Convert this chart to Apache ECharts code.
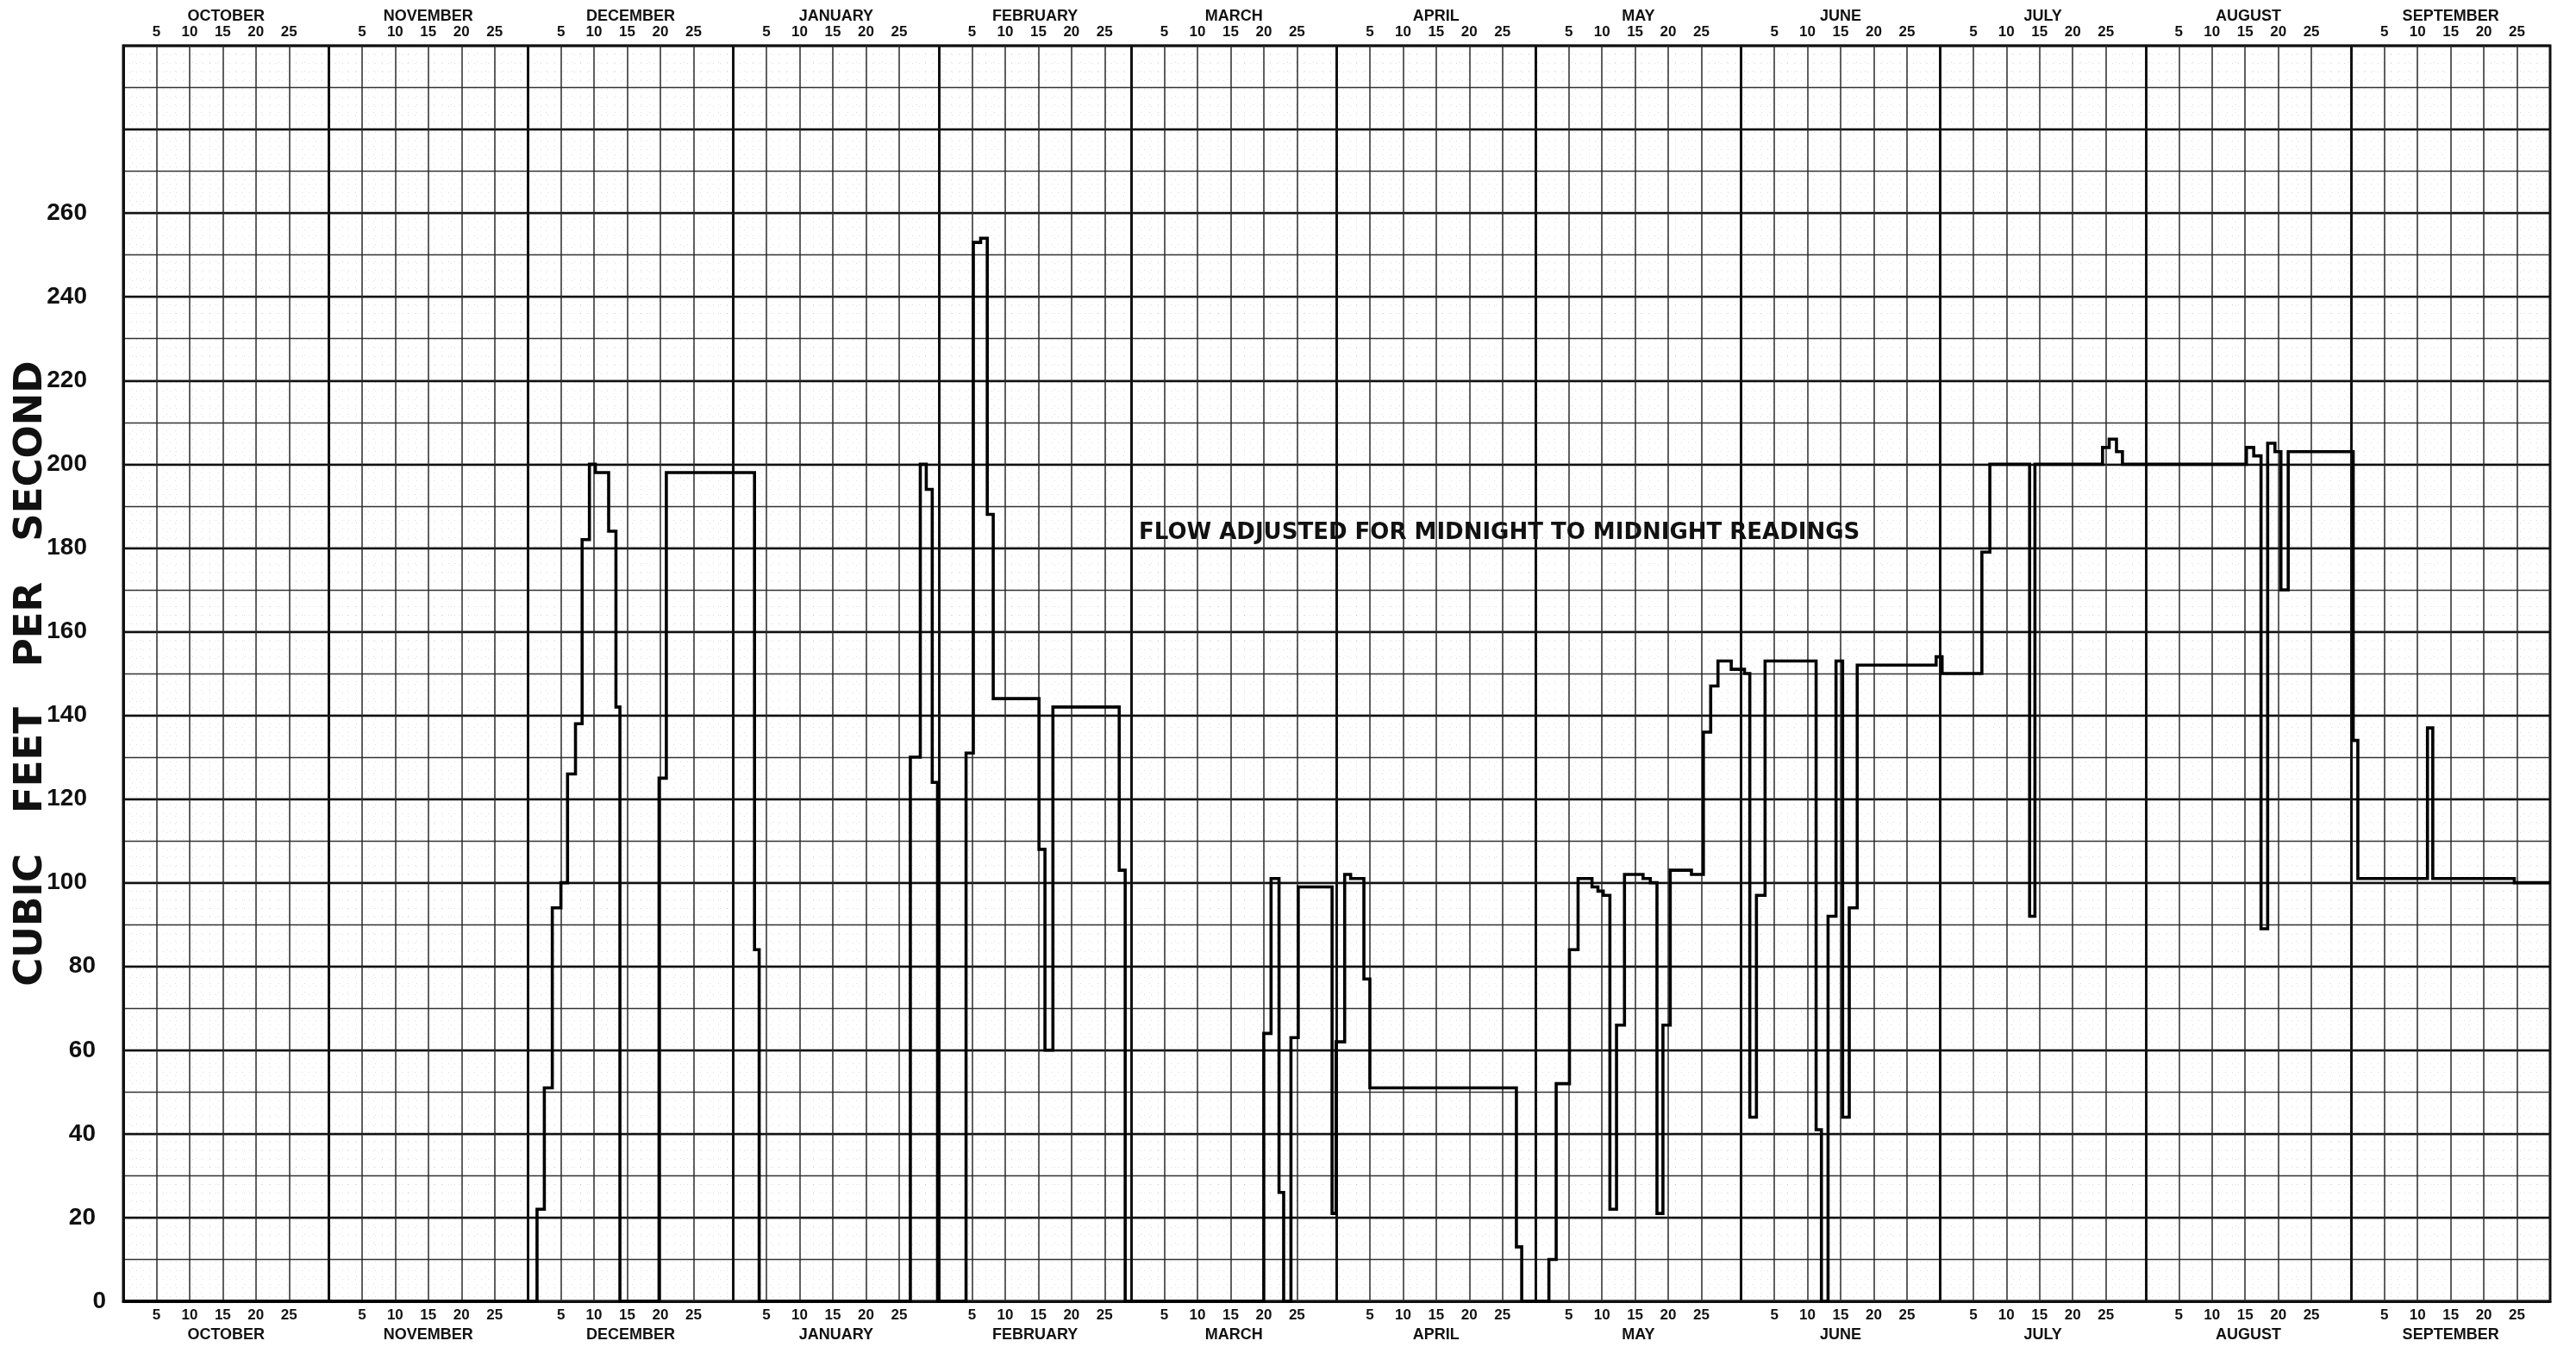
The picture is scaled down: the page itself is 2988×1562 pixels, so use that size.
<!DOCTYPE html>
<html>
<head>
<meta charset="utf-8">
<script src="https://cdn.jsdelivr.net/npm/echarts@6/dist/echarts.min.js"></script>
<style>
  html, body { margin: 0; padding: 0; background: #fff; }
  #chart { width: 2988px; height: 1562px; }
</style>
</head>
<body>
<div id="chart"></div>
<script>
// Water year October - September (February has 29 days this year)
const monthNames = ['OCTOBER', 'NOVEMBER', 'DECEMBER', 'JANUARY', 'FEBRUARY', 'MARCH',
                    'APRIL', 'MAY', 'JUNE', 'JULY', 'AUGUST', 'SEPTEMBER'];
const monthDays = [31, 30, 31, 31, 29, 31, 30, 31, 30, 31, 31, 30];
const dayMarks = [5, 10, 15, 20, 25];
const cfsTicks = [0, 20, 40, 60, 80, 100, 120, 140, 160, 180, 200, 220, 240, 260];

// Daily mean discharge as step changes: day counted from Oct 1, and the flow (cfs)
// that holds from that day until the next change.
const stepDay = [
  0,
  62.4, 63.5, 64.7, 66, 67, 68.2, 69.2, 70.3, 71.2, 73.2, 74.3, 74.9,
  80.8, 81.9, 95.2, 95.9,
  118.7, 120.2, 121.1, 122, 122.8,
  127.1, 128.2, 129.3, 130.3, 131.2, 138.1, 139, 140.2, 150.2, 151.1,
  172, 173.1, 174.3, 175, 176.1, 177.2, 182.3, 182.9, 184.2, 185.1, 187.1, 188, 210.1, 210.9,
  215, 216.1, 218.1, 219.4, 221.5, 222.4, 223.2, 224.2, 225.2, 226.4, 229.2, 230.3, 231.3,
  232.2, 233.3, 236.5, 238.3, 239.4, 240.5, 242.5, 244.5, 245.3,
  246.3, 247.6, 255.3, 256.1, 257.1, 258.3, 259.3, 260.3, 261.5, 273.4, 274.3,
  280.3, 281.5, 287.5, 288.3, 298.5, 299.5, 300.6, 301.5,
  320.2, 321.3, 322.4, 323.4, 324.5, 325.4, 326.5, 336.3, 337,
  347.5, 348.3, 360.6, 366
];
const stepCfs = [
  0,
  22, 51, 94, 100, 126, 138, 182, 200, 198, 184, 142, 0,
  125, 198, 84, 0,
  130, 200, 194, 124, 0,
  131, 253, 254, 188, 144, 108, 60, 142, 103, 0,
  64, 101, 26, 0, 63, 99, 21, 62, 102, 101, 77, 51, 13, 0,
  10, 52, 84, 101, 99, 98, 97, 22, 66, 102, 101, 100, 21,
  66, 103, 102, 136, 147, 153, 151, 150, 44,
  97, 153, 41, 0, 92, 153, 44, 94, 152, 154, 150,
  179, 200, 92, 200, 204, 206, 203, 200,
  204, 202, 89, 205, 203, 170, 203, 134, 101,
  137, 101, 100, 100
];

// ---- derived axis positions ----
const monthStart = [];
let acc = 0;
monthDays.forEach(d => { monthStart.push(acc); acc += d; });
const totalDays = acc;

const dayLabelVals = [];
const dayLabelText = {};
monthStart.forEach(s => dayMarks.forEach(d => {
  dayLabelVals.push(s + d);
  dayLabelText[s + d] = String(d);
}));
const monthMid = monthStart.map((s, i) => s + monthDays[i] / 2);
const monthText = {};
monthMid.forEach((m, i) => { monthText[m] = monthNames[i]; });

const flowData = stepDay.map((d, i) => [d, stepCfs[i]]);

// vertical ruling of the chart paper: heavy at month ends, lighter every 5 days
const ruling = [];
monthStart.forEach((s, i) => {
  if (i > 0) ruling.push({ xAxis: s, lineStyle: { color: '#111', width: 3, type: 'solid' } });
  dayMarks.forEach(d => ruling.push({ xAxis: s + d, lineStyle: { color: '#2a2a2a', width: 1.5, type: 'solid' } }));
});

const FONT = '"Liberation Sans", Arial, sans-serif';
const labelStyle = { fontFamily: FONT, fontWeight: 'bold', color: '#111' };
// the hand-lettered scale steps the wider numbers a little away from the axis
const cfsRich = {
  d1: { fontFamily: FONT, fontWeight: 'bold', fontSize: 28, color: '#111', padding: [0, 0, 0, 0] },
  d2: { fontFamily: FONT, fontWeight: 'bold', fontSize: 28, color: '#111', padding: [0, 12, 0, 0] },
  d3: { fontFamily: FONT, fontWeight: 'bold', fontSize: 28, color: '#111', padding: [0, 22, 0, 0] }
};

const baseX = {
  type: 'value', min: 0, max: totalDays,
  splitLine: { show: false }, axisTick: { show: false },
  axisLine: { show: false, onZero: false }
};

const chart = echarts.init(document.getElementById('chart'), null, { renderer: 'canvas' });

chart.setOption({
  animation: false,
  backgroundColor: '#fff',
  grid: {
    left: 143, right: 30, top: 53, bottom: 53,
    containLabel: false, outerBoundsMode: 'none',
    show: true, borderColor: '#111', borderWidth: 3, backgroundColor: 'transparent'
  },
  xAxis: [
    Object.assign({}, baseX, {
      position: 'bottom',
      axisLine: { show: true, onZero: false, lineStyle: { color: '#111', width: 3 } },
      axisLabel: Object.assign({ customValues: dayLabelVals, formatter: v => dayLabelText[v] || '',
                                 margin: 8, fontSize: 17 }, labelStyle)
    }),
    Object.assign({}, baseX, {
      position: 'bottom',
      axisLabel: Object.assign({ customValues: monthMid, formatter: v => monthText[v] || '',
                                 margin: 30, fontSize: 18 }, labelStyle)
    }),
    Object.assign({}, baseX, {
      position: 'top',
      axisLabel: Object.assign({ customValues: dayLabelVals, formatter: v => dayLabelText[v] || '',
                                 margin: 7, fontSize: 17 }, labelStyle)
    }),
    Object.assign({}, baseX, {
      position: 'top',
      axisLabel: Object.assign({ customValues: monthMid, formatter: v => monthText[v] || '',
                                 margin: 25, fontSize: 18 }, labelStyle)
    }),
    // faint dotted daily ruling
    Object.assign({}, baseX, {
      position: 'bottom', interval: 1,
      axisLabel: { show: false },
      splitLine: { show: true, lineStyle: { color: 'rgba(0,0,0,0.13)', width: 1, type: [1, 9] } }
    })
  ],
  yAxis: [
    {
      type: 'value', min: 0, max: 300, interval: 10, position: 'left',
      axisLine: { show: true, onZero: false, lineStyle: { color: '#111', width: 3 } },
      axisTick: { show: false },
      axisLabel: Object.assign({
        formatter: v => {
          if (!cfsTicks.includes(v)) return '';
          const s = String(v);
          return '{d' + s.length + '|' + s + '}';
        },
        rich: cfsRich,
        margin: 20, fontSize: 28
      }, labelStyle),
      splitLine: { show: true, lineStyle: { color: '#333', width: 1.4 } },
      minorTick: { show: false, splitNumber: 5 },
      minorSplitLine: { show: true, lineStyle: { color: 'rgba(0,0,0,0.13)', width: 1, type: [1, 9] } },
      name: 'CUBIC   FEET   PER   SECOND',
      nameLocation: 'middle', nameGap: 84, nameMoveOverlap: false,
      nameTextStyle: { fontFamily: '"DejaVu Sans", sans-serif', fontWeight: 'bold', fontSize: 45, color: '#111' }
    },
    {
      type: 'value', min: 0, max: 300, interval: 20, position: 'left',
      axisLine: { show: false, onZero: false }, axisTick: { show: false }, axisLabel: { show: false },
      splitLine: { show: true, lineStyle: { color: '#111', width: 2.4 } }
    }
  ],
  graphic: [{
    type: 'text', left: 1321, top: 605, z: 20,
    style: {
      text: 'FLOW ADJUSTED FOR MIDNIGHT TO MIDNIGHT READINGS',
      font: 'bold 26px "DejaVu Sans", sans-serif', fill: '#111'
    }
  }],
  series: [
    {
      name: 'ruling', type: 'line', xAxisIndex: 0, yAxisIndex: 0,
      data: [[0, 0]], symbol: 'none', lineStyle: { width: 0 }, silent: true, z: 1,
      markLine: { silent: true, symbol: ['none', 'none'], label: { show: false },
                  animation: false, data: ruling }
    },
    {
      name: 'Discharge', type: 'line', xAxisIndex: 0, yAxisIndex: 0,
      step: 'end', data: flowData, symbol: 'none', silent: true, z: 10,
      lineStyle: { color: '#000', width: 3.6, join: 'miter' }
    }
  ]
});
</script>
</body>
</html>
